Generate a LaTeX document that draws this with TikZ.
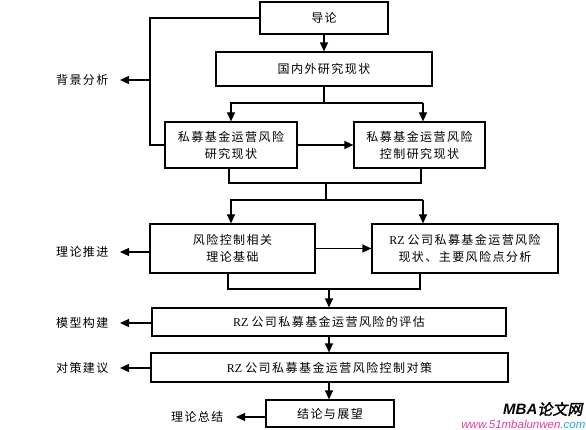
\documentclass[tikz,border=0pt]{standalone}
\usepackage{fontspec}
\setmainfont{Liberation Serif}
\newfontfamily\cjk[LetterSpace=12]{Noto Sans CJK SC}
\newfontfamily\wmcjk[FakeSlant=0.2,FakeBold=2]{Noto Sans CJK SC}
\newfontfamily\wmlat{Liberation Sans}
\usetikzlibrary{arrows.meta}
\definecolor{wmpink}{RGB}{226,60,160}
\definecolor{wmcyan}{RGB}{40,170,205}
\newcommand{\RZtxt}{{\rmfamily RZ}\hspace{3pt}}
\begin{document}
\begin{tikzpicture}[x=1pt,y=-1pt,
  line width=1.2pt,
  every node/.style={font=\cjk\fontsize{12}{17}\selectfont},
  box/.style={draw,line width=1.2pt,inner sep=0pt,align=center},
  arr/.style={-{Triangle[length=9pt,width=8pt]}},
  lab/.style={anchor=east,inner sep=0pt}]
\useasboundingbox (0,0) rectangle (586,430);
% boxes
\node[box,minimum width=128pt,minimum height=32pt] (intro) at (324,18) {导论};
\node[box,minimum width=216pt,minimum height=34pt] (dom) at (324,69) {国内外研究现状};
\node[box,minimum width=132pt,minimum height=46pt] (rs1) at (231,145) {私募基金运营风险\\研究现状};
\node[box,minimum width=131pt,minimum height=46pt] (rs2) at (419.5,145) {私募基金运营风险\\控制研究现状};
\node[box,minimum width=165pt,minimum height=49pt] (th) at (232.5,248.5) {风险控制相关\\理论基础};
\node[box,minimum width=186pt,minimum height=49pt] (rz1) at (465,248.5) {\RZtxt 公司私募基金运营风险\\现状、主要风险点分析};
\node[box,minimum width=354pt,minimum height=28pt] (ev) at (329,322) {\RZtxt 公司私募基金运营风险的评估};
\node[box,minimum width=357pt,minimum height=29pt] (cm) at (329.5,367.5) {\RZtxt 公司私募基金运营风险控制对策};
\node[box,minimum width=128pt,minimum height=27pt] (con) at (330,413.5) {结论与展望};
% left labels
\node[lab] (l1) at (109,80) {背景分析};
\node[lab] (l2) at (109,252) {理论推进};
\node[lab] (l3) at (109,323) {模型构建};
\node[lab] (l4) at (109,368) {对策建议};
\node[lab] (l5) at (224,417) {理论总结};
% coordinates
\coordinate (b1) at (231,103);
\coordinate (b2) at (423,103);
\coordinate (c1) at (229,183);
\coordinate (c2) at (421,183);
\coordinate (cm1) at (326,183);
\coordinate (d1) at (231,200);
\coordinate (d2) at (423,200);
\coordinate (e1) at (228,289);
\coordinate (e2) at (420,289);
\coordinate (em) at (329,289);
\coordinate (k1) at (150,18);
\coordinate (k2) at (150,145);
\coordinate (k3) at (150,80);
% top connectors
\draw[arr] (intro.south) -- (dom.north);
\draw (dom.south) -- (dom.south |- b1);
\draw[arr] (b2) -- (b1) -- (rs1.north);
\draw[arr] (b2) -- (b2 |- rs2.north);
\draw[arr] (rs1.east) -- (rs2.west |- rs1.east);
% merge 1
\draw (c1 |- rs1.south) -- (c1) -- (c2) -- (c2 |- rs2.south);
\draw (cm1) -- (cm1 |- d1);
\draw[arr] (d2) -- (d1) -- (th.north -| d1);
\draw[arr] (d2) -- (d2 |- rz1.north);
\draw[arr] (th.east) -- (rz1.west);
% merge 2
\draw (e1 |- th.south) -- (e1) -- (e2) -- (e2 |- rz1.south);
\draw[arr] (em) -- (em |- ev.north);
\draw[arr] (ev.south -| em) -- (em |- cm.north);
\draw[arr] (cm.south -| em) -- (em |- con.north);
% left bracket and label arrows
\draw (intro.west) -- (k1) -- (k2) -- (rs1.west);
\draw[arr] (k3) -- ([xshift=11pt]l1.east);
\draw[arr] (th.west |- l2) -- ([xshift=11pt]l2.east);
\draw[arr] (ev.west |- l3) -- ([xshift=11pt]l3.east);
\draw[arr] (cm.west |- l4) -- ([xshift=11pt]l4.east);
\draw[arr] (con.west |- l5) -- ([xshift=12pt]l5.east);
% watermark
\node[anchor=east,inner sep=0pt,font=\fontsize{15}{15}\selectfont] (wm1) at (583,409) {{\wmlat\bfseries\itshape MBA}{\wmcjk 论文网}};
\node[anchor=east,inner sep=0pt,font=\wmlat\itshape\fontsize{11.5}{12}\selectfont] (wm2) at (586,424) {\textcolor{wmpink}{www.51mbalunwen}\textcolor{wmcyan}{.com}};
\end{tikzpicture}
\end{document}
